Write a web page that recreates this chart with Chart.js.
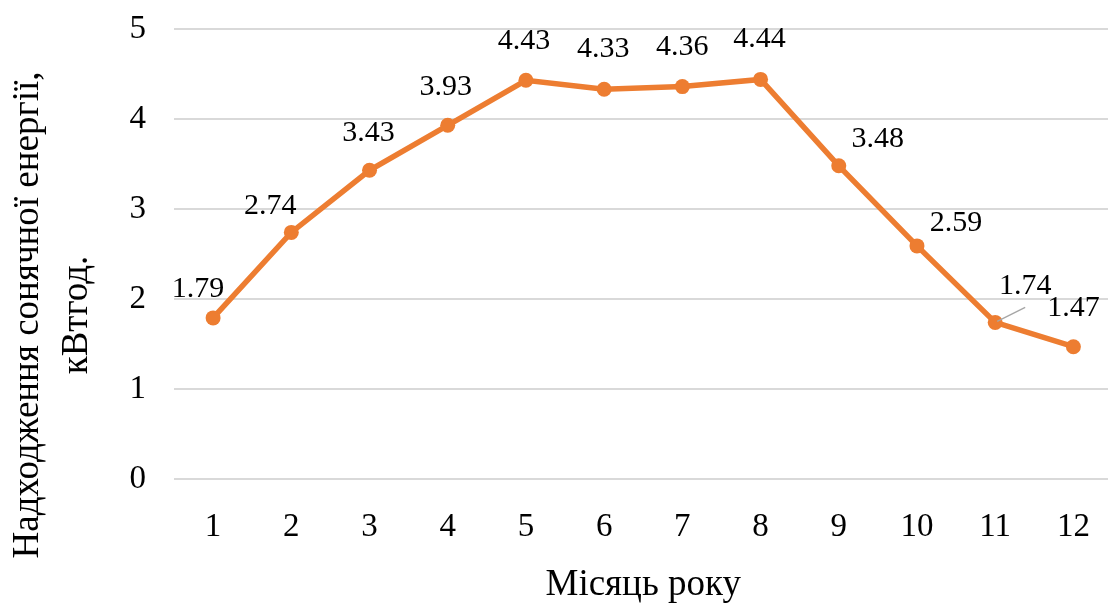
<!DOCTYPE html>
<html lang="uk">
<head>
<meta charset="utf-8">
<title>Надходження сонячної енергії</title>
<script src="https://cdn.jsdelivr.net/npm/chart.js@4/dist/chart.umd.min.js"></script>
<style>
  html, body { margin: 0; padding: 0; background: #fff; overflow: hidden; }
  #wrap { width: 1120px; height: 604px; }
</style>
</head>
<body>
<div id="wrap"><canvas id="chart" width="1120" height="604"></canvas></div>
<script>
// Місяці року та середнє надходження сонячної енергії, кВт·год
const months = ['1', '2', '3', '4', '5', '6', '7', '8', '9', '10', '11', '12'];
const solarEnergy = [1.79, 2.74, 3.43, 3.93, 4.43, 4.33, 4.36, 4.44, 3.48, 2.59, 1.74, 1.47];
const yTicks = [0, 1, 2, 3, 4, 5];

const yTitleLines = ['Надходження сонячної енергії,', 'кВтгод.'];
const xTitle = 'Місяць року';

const FONT = '"Liberation Serif", "Times New Roman", serif';
const ORANGE = '#ED7D31';

// Зсув підпису відносно точки (dx, dy) та потреба у виносній лінії
const labelPlacement = [
  [-15, -30], [-21, -27], [-1, -38], [-2, -39], [-2, -40], [-1, -41],
  [0, -40], [-1, -41], [39, -28], [39, -24], [30, -37, true], [0, -40]
];

const valueLabels = {
  id: 'valueLabels',
  afterDatasetsDraw(chart) {
    const ctx = chart.ctx;
    const meta = chart.getDatasetMeta(0);
    ctx.save();
    ctx.font = '30px ' + FONT;
    ctx.fillStyle = '#000';
    ctx.textAlign = 'center';
    ctx.textBaseline = 'middle';
    meta.data.forEach((pt, i) => {
      const [dx, dy, leader] = labelPlacement[i];
      const lx = pt.x + dx, ly = pt.y + dy;
      if (leader) {
        ctx.strokeStyle = '#a6a6a6';
        ctx.lineWidth = 1.5;
        ctx.beginPath();
        ctx.moveTo(pt.x + 2, pt.y - 1);
        ctx.lineTo(lx, ly + 22);
        ctx.stroke();
      }
      ctx.fillText(solarEnergy[i].toFixed(2), lx, ly + 1);
    });
    ctx.restore();
  }
};

const axisTitles = {
  id: 'axisTitles',
  afterDraw(chart) {
    const ctx = chart.ctx;
    const area = chart.chartArea;
    ctx.save();
    ctx.fillStyle = '#000';
    ctx.font = '37px ' + FONT;
    ctx.textAlign = 'center';
    ctx.textBaseline = 'alphabetic';
    // Назва осі X
    ctx.fillText(xTitle, (area.left + area.right) / 2, 595);
    // Назва осі Y (два рядки, повернуто)
    const cy = 315;
    const baselines = [38, 87];
    yTitleLines.forEach((line, k) => {
      ctx.save();
      ctx.translate(baselines[k], cy);
      ctx.rotate(-Math.PI / 2);
      ctx.fillText(line, 0, 0);
      ctx.restore();
    });
    ctx.restore();
  }
};

new Chart(document.getElementById('chart'), {
  type: 'line',
  data: {
    labels: months,
    datasets: [{
      data: solarEnergy,
      borderColor: ORANGE,
      backgroundColor: ORANGE,
      borderWidth: 5.5,
      pointRadius: 7.5,
      pointBackgroundColor: ORANGE,
      pointBorderColor: ORANGE,
      pointBorderWidth: 0,
      tension: 0,
      clip: false
    }]
  },
  options: {
    responsive: false,
    animation: false,
    layout: { padding: { top: 29, right: 5, left: 0, bottom: 0 } },
    plugins: {
      legend: { display: false },
      tooltip: { enabled: false }
    },
    scales: {
      x: {
        type: 'category',
        offset: true,
        grid: { display: false, drawTicks: false },
        border: { display: false },
        ticks: {
          color: '#000',
          font: { family: FONT, size: 33 },
          padding: 29,
          maxRotation: 0,
          autoSkip: false
        },
        afterFit(scale) { scale.height = 125; }
      },
      y: {
        min: 0,
        max: 5,
        afterBuildTicks(scale) { scale.ticks = yTicks.map(v => ({ value: v })); },
        grid: {
          color: '#d9d9d9',
          lineWidth: 2,
          drawTicks: true,
          tickLength: 28,
          tickColor: 'rgba(0,0,0,0)'
        },
        border: { display: false },
        ticks: {
          color: '#000',
          font: { family: FONT, size: 33 },
          padding: 0
        },
        afterFit(scale) { scale.width = 174; }
      }
    }
  },
  plugins: [valueLabels, axisTitles]
});
</script>
</body>
</html>
